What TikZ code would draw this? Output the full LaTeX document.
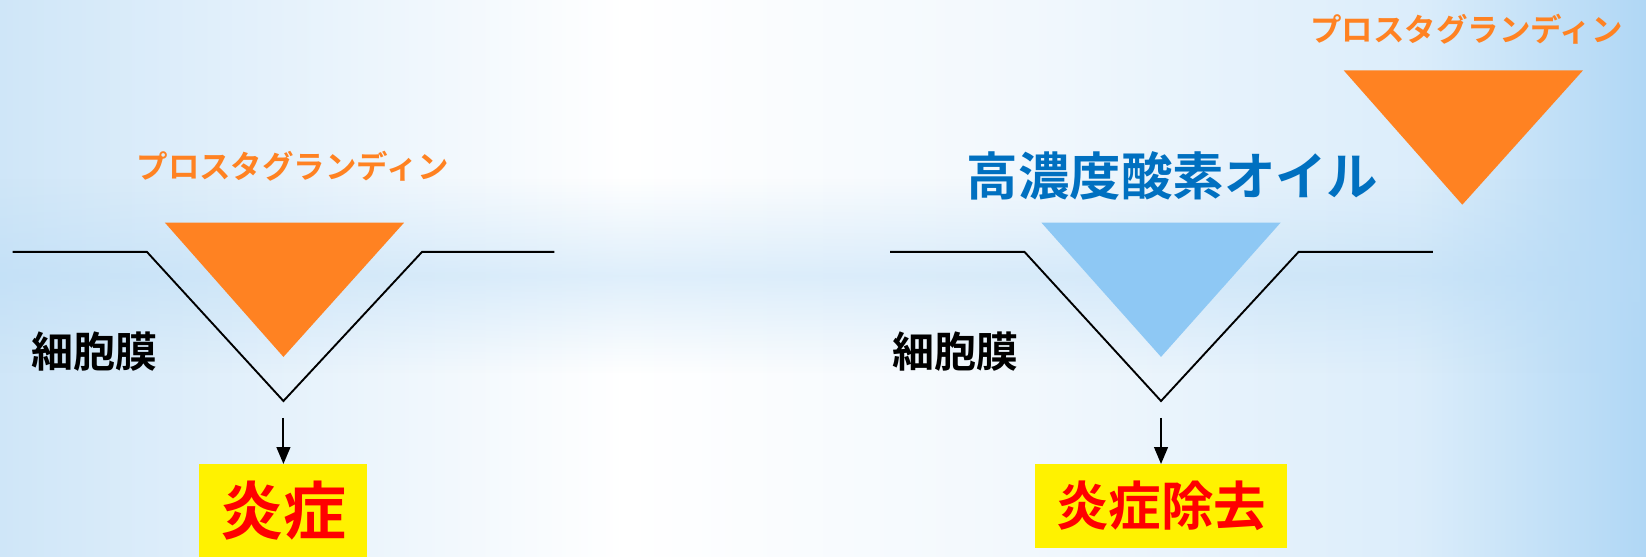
\documentclass[tikz,border=0pt]{standalone}
\usepackage{fontspec}
\newfontfamily\cjkb{Noto Sans CJK JP Bold}
\usetikzlibrary{arrows.meta,fadings}
\definecolor{orng}{HTML}{FF8222}
\definecolor{ltblue}{HTML}{8EC8F4}
\definecolor{txtblue}{HTML}{0070C0}
\definecolor{bgL}{HTML}{CFE6F8}
\definecolor{bgM}{HTML}{F2F8FD}
\definecolor{bgR}{HTML}{B0D7F5}
\definecolor{band}{HTML}{B8DBF6}
\pgfdeclarehorizontalshading{bgshade}{100bp}{color(0bp)=(bgL); color(25bp)=(bgL); color(33bp)=(bgM!60!bgL); color(44bp)=(white); color(56bp)=(bgM); color(68bp)=(bgR!45!white); color(75bp)=(bgR); color(100bp)=(bgR)}
\tikzfading[name=bandfade, top color=transparent!100, bottom color=transparent!100, middle color=transparent!55]
\tikzset{
  membrane/.style={draw=black, line width=1.8pt},
  pgtext/.style={text=orng, font=\cjkb\fontsize{30}{32}\selectfont, inner sep=0pt},
  mlabel/.style={text=black, font=\cjkb\fontsize{40}{42}\selectfont, inner sep=0pt},
  resbox/.style={fill=yellow, text=red, inner sep=0pt},
  flow/.style={draw=black, line width=1.8pt, -{Triangle[length=16pt,width=13pt]}}
}
\begin{document}
\begin{tikzpicture}[x=1pt,y=-1pt]
\useasboundingbox (0,0) rectangle (1568,530);
% background
\shade[shading=bgshade] (0,0) rectangle (1568,530);
\fill[band, path fading=bandfade] (0,170) rectangle (1568,355);

% ---------- left panel ----------
\node[pgtext] (pg1) at (279,158) {プロスタグランディン};
\fill[orng] (157,212) -- (385,212) -- (270,340) -- cycle;
\draw[membrane] (12,240) -- (140,240) -- (270,382) -- (402,240) -- (528,240);
\node[mlabel] (mem1) at (90,335) {細胞膜};
\coordinate (a1) at (270,398);
\node[resbox, font=\cjkb\fontsize{60}{62}\selectfont, minimum width=160pt, minimum height=88pt, anchor=north] (res1) at (270,442) {炎症};
\draw[flow] (a1) -- (res1.north);

% ---------- right panel ----------
\node[pgtext] (pg2) at (1397,28) {プロスタグランディン};
\fill[orng] (1280,67) -- (1508,67) -- (1393,195) -- cycle;
\node[text=txtblue, font=\cjkb\fontsize{49}{51}\selectfont, inner sep=0pt] (oil) at (1117,168) {高濃度酸素オイル};
\fill[ltblue] (992,212) -- (1220,212) -- (1106,340) -- cycle;
\draw[membrane] (848,240) -- (976,240) -- (1106,382) -- (1237,240) -- (1365,240);
\node[mlabel] (mem2) at (910,335) {細胞膜};
\coordinate (a2) at (1106,398);
\node[resbox, font=\cjkb\fontsize{50}{52}\selectfont, minimum width=240pt, minimum height=80pt, anchor=north] (res2) at (1106,442) {炎症除去};
\draw[flow] (a2) -- (res2.north);
\end{tikzpicture}
\end{document}
